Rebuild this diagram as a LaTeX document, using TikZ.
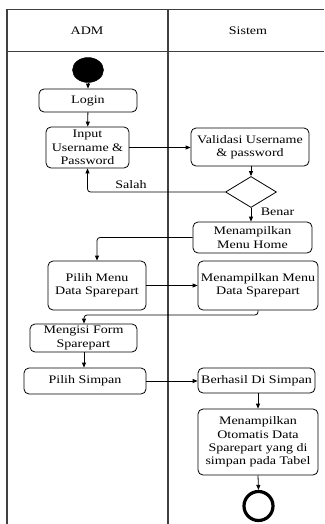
\documentclass[tikz,border=0pt]{standalone}
\usepackage{fontspec}
\setmainfont{Liberation Serif}[FakeStretch=1.22]
\usetikzlibrary{shapes.geometric,arrows.meta}
\begin{document}
\begin{tikzpicture}[x=1pt,y=-1pt,
  every node/.style={font=\fontsize{11.5}{13.3}\selectfont},
  act/.style={draw,rounded corners=5pt,align=center,inner sep=0pt,line width=0.8pt},
  lane/.style={draw=black!75,line width=1.2pt},
  flow/.style={draw,line width=0.8pt,-{Triangle[length=5pt,width=4pt]},rounded corners=3pt},
  lbl/.style={inner sep=0pt}]
\useasboundingbox (0,0) rectangle (324,524);
% lanes
\draw[lane] (7,524) -- (7,9.5) -- (324,9.5);
\draw[lane] (7,51.5) -- (324,51.5);
\draw[lane] (168,9.5) -- (168,524);
\node[lbl] (hadm) at (87,31) {ADM};
\node[lbl] (hsis) at (248,31) {Sistem};
% nodes
\node[draw,fill=black,ellipse,minimum width=31pt,minimum height=25pt,inner sep=0pt] (start) at (88,70) {};
\node[act,minimum width=98pt,minimum height=23pt] (login) at (88,100.5) {Login};
\node[act,minimum width=83pt,minimum height=41pt] (input) at (87.5,147.5) {Input\\Username \&\\Password};
\node[act,minimum width=118pt,minimum height=38pt] (valid) at (250,147) {Validasi Username\\\& password};
\node[draw,diamond,line width=0.8pt,minimum width=51pt,minimum height=31pt,inner sep=0pt,aspect=1.65] (dec) at (251,192) {};
\node[act,minimum width=119pt,minimum height=31pt] (home) at (252.5,237.5) {Menampilkan\\Menu Home};
\node[act,minimum width=98pt,minimum height=49pt] (pilih) at (97,285.5) {Pilih Menu\\Data Sparepart};
\node[act,minimum width=120pt,minimum height=49pt] (mdata) at (258,285.5) {Menampilkan Menu\\Data Sparepart};
\node[act,minimum width=107pt,minimum height=28pt] (isi) at (83.5,338) {Mengisi Form\\Sparepart};
\node[act,minimum width=122pt,minimum height=26pt] (simpan) at (85,381) {Pilih Simpan};
\node[act,minimum width=117pt,minimum height=25pt] (berhasil) at (256.5,380.5) {Berhasil Di Simpan};
\node[act,minimum width=120pt,minimum height=66pt] (oto) at (258,442) {Menampilkan\\Otomatis Data\\Sparepart yang di\\simpan pada Tabel};
\node[draw,circle,line width=3.2pt,minimum size=29pt,inner sep=0pt] (end) at (258.5,506) {};
% connectors
\draw[flow] (start) -- (login);
\draw[flow] (login) -- (input);
\draw[flow] (input.east) -- (valid.west |- input.east);
\draw[flow] (valid.south -| dec.north) -- (dec.north);
\draw[flow] (dec.west) -| (input.south);
\node[lbl] (salah) at (131,185) {Salah};
\draw[flow] (dec.south) -- (dec.south |- home.north);
\node[lbl] (benar) at (277.5,212) {Benar};
\draw[flow] (home.west) -| (pilih.north);
\draw[flow] (pilih.east) -- (mdata.west |- pilih.east);
\coordinate (m1) at (258,315);
\coordinate (m2) at (84,315);
\draw[flow] (mdata.south) -- (m1) -- (m2) -- (isi.north -| m2);
\draw[flow] (isi.south -| m2) -- (simpan.north -| m2);
\draw[flow] (simpan.east) -- (berhasil.west |- simpan.east);
\draw[flow] (berhasil.south -| oto.north) -- (oto.north);
\draw[flow] (oto.south) -- (end.north);
\end{tikzpicture}
\end{document}
